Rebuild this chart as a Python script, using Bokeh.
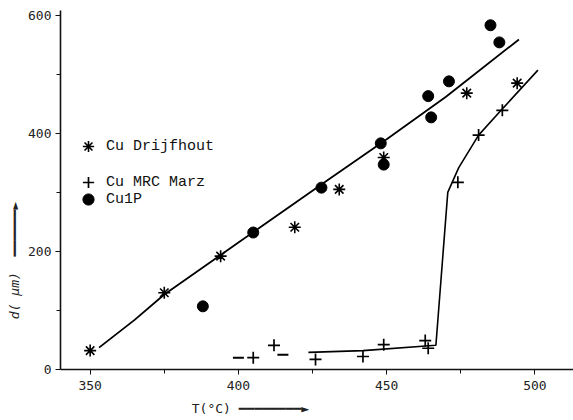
from bokeh.plotting import figure
from bokeh.models import Legend, LegendItem, FixedTicker
from bokeh.embed import file_html
from bokeh.resources import INLINE

# ---- data ----
drij_T = [350, 375, 394, 419, 434, 449, 477, 494]
drij_d = [32, 130, 192, 241, 305, 359, 468, 485]

cu1p_T = [388, 405, 428, 448, 449, 464, 465, 471, 485, 488]
cu1p_d = [107, 232, 308, 383, 347, 463, 427, 488, 583, 554]

marz_T = [405, 412, 426, 442, 449, 463, 464, 474, 481, 489]
marz_d = [20, 41, 17, 22, 42, 49, 36, 317, 397, 439]

marz_dash_T = [400, 415]
marz_dash_d = [20, 25]

fit1_T = [353, 365, 375, 400, 431, 450, 470, 494.6]
fit1_d = [37, 84, 127, 215, 324, 390, 462, 559]

fit2_T = [423.6, 442, 466.6, 470.6, 474.3, 481, 489.5, 501]
fit2_d = [29, 32, 41, 300, 342, 397, 444, 507]

x_major = [350, 400, 450, 500]
x_minor = [375, 425, 475]
y_major = [0, 200, 400, 600]
y_minor = [100, 300, 500]

MONO = "Liberation Mono"
TICKF = "DejaVu Sans Mono"
NB = "\u00a0"
ARROW_Y = "\u2501" * 6 + "\u25ba"
ARROW_X = "\u2501" * 8 + "\u25ba"

p = figure(width=573, height=420, x_range=(340, 513), y_range=(0, 608),
           output_backend="svg", toolbar_location=None,
           min_border_left=60, min_border_bottom=51, min_border_top=10,
           min_border_right=0)
p.outline_line_color = None
p.xgrid.visible = False
p.ygrid.visible = False
p.background_fill_color = "white"

for ax in (p.xaxis[0], p.yaxis[0]):
    ax.axis_line_width = 1.6
    ax.axis_line_color = "#111111"
    ax.major_tick_line_color = "#111111"
    ax.minor_tick_line_color = "#111111"
    ax.major_tick_in = 0
    ax.major_tick_out = 5
    ax.minor_tick_in = 0
    ax.minor_tick_out = 4
    ax.major_label_text_font = TICKF
    ax.major_label_text_font_size = "13px"
    ax.major_label_text_color = "#222222"
    ax.axis_label_text_font = TICKF
    ax.axis_label_text_font_size = "13px"
    ax.axis_label_text_color = "#222222"
p.xaxis[0].ticker = FixedTicker(ticks=x_major, minor_ticks=x_minor)
p.yaxis[0].ticker = FixedTicker(ticks=y_major, minor_ticks=y_minor)
p.xaxis[0].major_label_standoff = 6
p.yaxis[0].major_label_standoff = 4

p.yaxis[0].axis_label = "d(" + NB + "μm)" + NB * 2 + ARROW_Y + NB * 18
p.yaxis[0].axis_label_text_font_style = "italic"
p.yaxis[0].axis_label_standoff = 3
p.xaxis[0].axis_label = "T(°C)" + NB + ARROW_X + NB * 17
p.xaxis[0].axis_label_text_font_style = "normal"
p.xaxis[0].axis_label_standoff = 8

# fitted curves
p.line(fit1_T, fit1_d, line_color="black", line_width=1.8)
p.line(fit2_T, fit2_d, line_color="black", line_width=1.6)

r_drij = p.scatter(drij_T, drij_d, marker="asterisk", size=12, line_color="black", line_width=1.6)
r_marz = p.scatter(marz_T, marz_d, marker="cross", size=12, line_color="black", line_width=1.7)
p.scatter(marz_dash_T, marz_dash_d, marker="dash", size=11, line_color="black", line_width=2)
r_cu1p = p.scatter(cu1p_T, cu1p_d, marker="circle", size=11, fill_color="black", line_color="black")

def one_legend(label, rend, yb):
    lg = Legend(items=[LegendItem(label=label, renderers=[rend])],
                location=(14, yb), orientation="vertical",
                glyph_width=28, glyph_height=28, label_height=28,
                label_standoff=4, padding=0, margin=0, spacing=0,
                label_text_font=MONO, label_text_font_size="15px",
                label_text_color="#111111",
                background_fill_alpha=0, border_line_alpha=0)
    p.add_layout(lg, "center")

one_legend("Cu Drijfhout", r_drij, 209)
one_legend("Cu MRC Marz", r_marz, 173)
one_legend("Cu1P", r_cu1p, 156)

open("out.html", "w").write(file_html(p, INLINE))
